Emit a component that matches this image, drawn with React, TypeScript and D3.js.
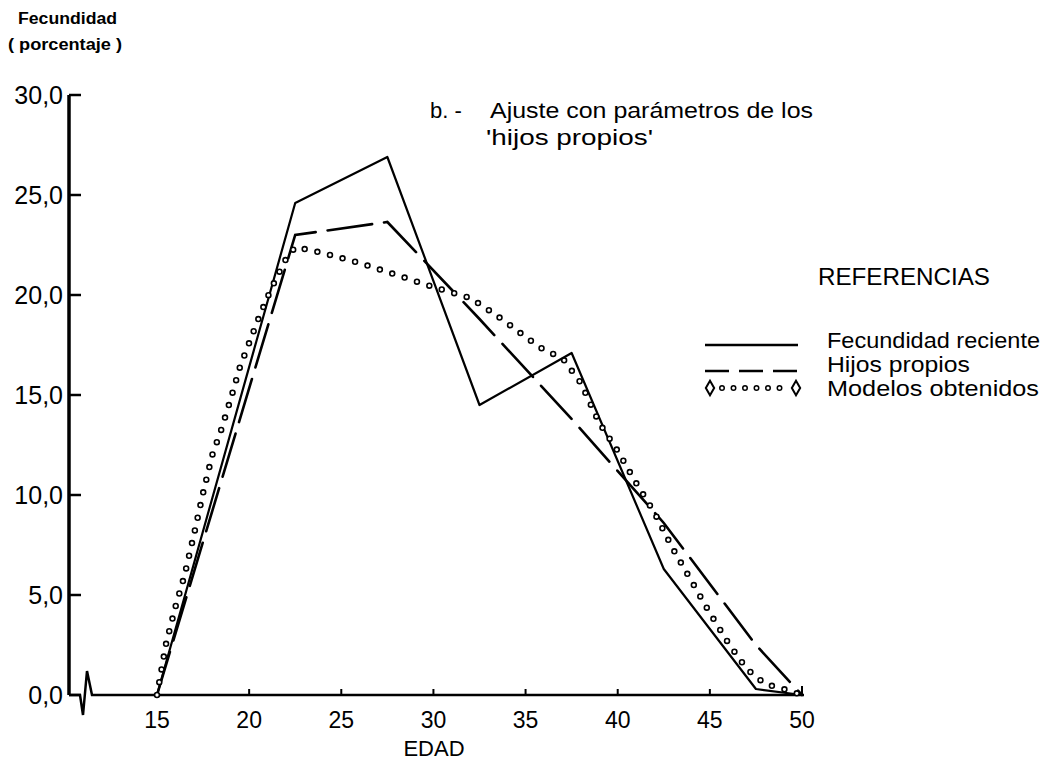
import React from 'react';
import * as d3 from 'd3';

// ---- data ----
const ages = [15, 22.5, 27.5, 32.5, 37.5, 42.5, 47.5, 50];
const fecundidadReciente = [0, 24.6, 26.9, 14.5, 17.1, 6.3, 0.3, 0];
const hijosPropios = [0, 23.0, 23.65, 18.8, 13.8, 8.6, 2.5, 0];
const modeloAges = [15, 15.5, 16, 16.5, 17, 17.5, 18, 18.5, 19, 19.5, 20, 20.5, 21, 21.5, 22, 22.5, 24, 26, 28, 30, 32, 33, 34, 35, 36, 37, 38, 39, 40, 41, 42, 43, 44, 45, 46, 47, 48, 49, 50];
const modelosObtenidos = [0, 2.6, 4.4, 6.0, 8.0, 10.1, 12.0, 13.3, 14.8, 16.4, 17.6, 18.8, 19.9, 20.9, 21.8, 22.4, 22.1, 21.6, 21.0, 20.4, 19.85, 19.25, 18.6, 17.9, 17.25, 16.85, 15.6, 13.6, 12.2, 10.6, 9.1, 7.3, 5.7, 4.1, 2.6, 1.3, 0.55, 0.3, 0];
const xTicks = [15, 20, 25, 30, 35, 40, 45, 50];
const yTicks = [0, 5, 10, 15, 20, 25, 30];
const yTickLabels = ['0,0', '5,0', '10,0', '15,0', '20,0', '25,0', '30,0'];
const legendLabels = ['Fecundidad reciente', 'Hijos propios', 'Modelos obtenidos'];
const yTitle = ['Fecundidad', '( porcentaje )'];
const xTitle = 'EDAD';
const titleLines = ['b. -', 'Ajuste con parámetros de los', "'hijos propios'"];
const legendTitle = 'REFERENCIAS';

const FONT = '"Liberation Sans", Arial, Helvetica, sans-serif';

export default function App() {
  const W = 1047, H = 763;
  const x = d3.scaleLinear().domain([15, 50]).range([157, 802]);
  const y = d3.scaleLinear().domain([0, 30]).range([695, 95]);
  const axisX = 69;
  const x0 = y(0);

  const line = d3.line<[number, number]>().x(d => x(d[0])).y(d => y(d[1]));
  const solidD = line(ages.map((a, i) => [a, fecundidadReciente[i]]))!;
  const dashD = line(ages.map((a, i) => [a, hijosPropios[i]]))!;
  const dotD = line(modeloAges.map((a, i) => [a, modelosObtenidos[i]]))!;

  // x axis with break symbol
  const brk = d3.line<[number, number]>()([
    [axisX, x0], [axisX + 11, x0], [axisX + 14, x0 + 20], [axisX + 18, x0 - 24], [axisX + 23, x0], [x(50) + 2, x0],
  ])!;

  const legX0 = 705, legX1 = 798;
  const legY = [345, 371, 388];
  const legTextY = [348, 372, 396];
  const diamond = d3.symbol().type(d3.symbolDiamond).size(60)()!;

  return (
    <svg width={W} height={H} style={{ position: 'absolute', left: 0, top: 0, background: '#fff' }} fontFamily={FONT}>
      <rect x={0} y={0} width={W} height={H} fill="#fff" />
      {/* y title */}
      <text x={18} y={24} fontSize={16} fontWeight="bold" textLength={99} lengthAdjust="spacingAndGlyphs">{yTitle[0]}</text>
      <text x={8} y={50} fontSize={16} fontWeight="bold" textLength={114} lengthAdjust="spacingAndGlyphs">{yTitle[1]}</text>

      {/* y axis */}
      <line x1={axisX} x2={axisX} y1={y(30)} y2={x0} stroke="#000" strokeWidth={3.5} />
      {yTicks.map((t, i) => (
        <g key={t}>
          <line x1={axisX} x2={axisX + 12} y1={y(t)} y2={y(t)} stroke="#000" strokeWidth={2.5} />
          <text x={63} y={y(t)} dy="0.36em" textAnchor="end" fontSize={25}>{yTickLabels[i]}</text>
        </g>
      ))}

      {/* x axis */}
      <path d={brk} fill="none" stroke="#000" strokeWidth={2.5} />
      {xTicks.filter(t => t > 15).map(t => (
        <line key={t} x1={x(t)} x2={x(t)} y1={x0} y2={x0 - (t === 50 ? 9 : 6)} stroke="#000" strokeWidth={2} />
      ))}
      {xTicks.map(t => (
        <text key={t} x={x(t)} y={x0 + 25} dy="0.36em" textAnchor="middle" fontSize={23}>{t}</text>
      ))}
      <text x={434} y={756} textAnchor="middle" fontSize={22}>{xTitle}</text>

      {/* series */}
      <path d={solidD} fill="none" stroke="#000" strokeWidth={2.2} strokeLinejoin="round" />
      <path d={dashD} fill="none" stroke="#000" strokeWidth={2.6} strokeDasharray="45 12" strokeLinecap="round" />
      <path d={dotD} fill="none" stroke="#000" strokeWidth={6.5} strokeDasharray="0 13" strokeLinecap="round" />
      <path d={dotD} fill="none" stroke="#fff" strokeWidth={3.3} strokeDasharray="0 13" strokeLinecap="round" />

      {/* title */}
      <text x={430} y={118} fontSize={22}>{titleLines[0]}</text>
      <text x={490} y={118} fontSize={22} textLength={323} lengthAdjust="spacingAndGlyphs">{titleLines[1]}</text>
      <text x={486} y={145} fontSize={22} textLength={167} lengthAdjust="spacingAndGlyphs">{titleLines[2]}</text>

      {/* legend */}
      <text x={818} y={285} fontSize={23} textLength={172} lengthAdjust="spacingAndGlyphs">{legendTitle}</text>
      <line x1={legX0} x2={legX1} y1={legY[0]} y2={legY[0]} stroke="#000" strokeWidth={2.5} />
      <line x1={legX0} x2={legX1} y1={legY[1]} y2={legY[1]} stroke="#000" strokeWidth={2.5} strokeDasharray="24 10" />
      <path d={`M${legX0 + 17},${legY[2]}H${legX1 - 10}`} fill="none" stroke="#000" strokeWidth={6} strokeDasharray="0 11.5" strokeLinecap="round" />
      <path d={`M${legX0 + 17},${legY[2]}H${legX1 - 10}`} fill="none" stroke="#fff" strokeWidth={3} strokeDasharray="0 11.5" strokeLinecap="round" />
      <path d={diamond} transform={`translate(${legX0 + 5},${legY[2]})`} fill="#fff" stroke="#000" strokeWidth={2} />
      <path d={diamond} transform={`translate(${legX1 - 2},${legY[2]})`} fill="#fff" stroke="#000" strokeWidth={2} />
      {legendLabels.map((l, i) => (
        <text key={l} x={827} y={legTextY[i]} fontSize={22} textLength={i === 0 ? 213 : i === 1 ? 143 : 212} lengthAdjust="spacingAndGlyphs">{l}</text>
      ))}
    </svg>
  );
}
